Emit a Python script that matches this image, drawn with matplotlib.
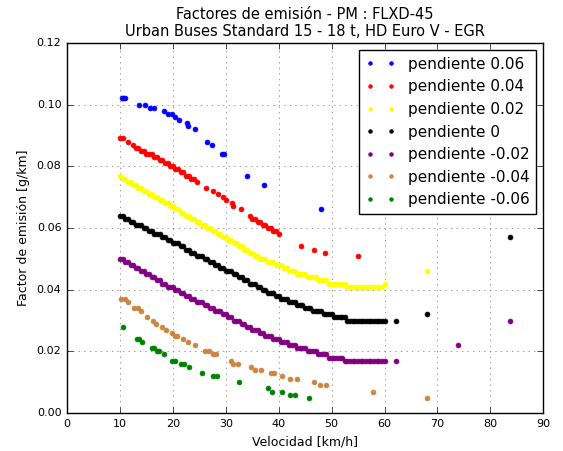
"""
Factores de emisión PM (FLXD-45) por pendiente: dispersión velocidad vs factor.
"""

import matplotlib
matplotlib.use("Agg")
import matplotlib.pyplot as plt

# ── Datos ──────────────────────────────────────────────────────────────

# velocidades comunes para las series densas (pendiente 0.02, 0, -0.02)
speed_grid = [
    10, 10.5, 11, 11.5, 12, 12.5, 13, 13.5, 14, 14.5,
    15, 15.5, 16, 16.5, 17, 17.5, 18, 18.5, 19, 19.5,
    20, 20.5, 21, 21.5, 22, 22.5, 23, 23.5, 24, 24.5,
    25, 25.5, 26, 26.5, 27, 27.5, 28, 28.5, 29, 29.5,
    30, 30.5, 31, 31.5, 32, 32.5, 33, 33.5, 34, 34.5,
    35, 35.5, 36, 36.5, 37, 37.5, 38, 38.5, 39, 39.5,
    40, 40.5, 41, 41.5, 42, 42.5, 43, 43.5, 44, 44.5,
    45, 45.5, 46, 46.5, 47, 47.5, 48, 48.5, 49, 49.5,
    50, 50.5, 51, 51.5, 52, 52.5, 53, 53.5, 54, 54.5,
    55, 55.5, 56, 56.5, 57, 57.5, 58, 58.5, 59, 59.5,
    60,
]

pos02_y = [
    .077, .076, .076, .075, .075, .074, .074, .073, .073, .072,
    .072, .071, .071, .070, .070, .069, .069, .068, .068, .067,
    .067, .066, .066, .065, .065, .064, .064, .063, .063, .062,
    .062, .061, .061, .060, .060, .059, .059, .058, .058, .057,
    .057, .056, .056, .055, .055, .054, .054, .053, .053, .052,
    .052, .051, .051, .050, .050, .050, .049, .049, .049, .048,
    .048, .048, .047, .047, .046, .046, .046, .045, .045, .045,
    .045, .044, .044, .044, .044, .043, .043, .043, .043, .042,
    .042, .042, .042, .042, .042, .042, .041, .041, .041, .041,
    .041, .041, .041, .041, .041, .041, .041, .041, .041, .041,
    .042,
]
pos02_extra_x = [68.0]
pos02_extra_y = [.046]

zero_y = [
    .064, .064, .063, .063, .062, .062, .061, .061, .061, .060,
    .060, .059, .059, .058, .058, .058, .057, .057, .056, .056,
    .055, .055, .055, .054, .054, .053, .053, .052, .052, .051,
    .051, .051, .050, .050, .049, .049, .048, .048, .047, .047,
    .046, .046, .046, .045, .045, .044, .044, .043, .043, .042,
    .042, .042, .041, .041, .040, .040, .039, .039, .039, .038,
    .038, .037, .037, .037, .036, .036, .036, .035, .035, .035,
    .034, .034, .034, .033, .033, .033, .033, .032, .032, .032,
    .032, .031, .031, .031, .031, .031, .030, .030, .030, .030,
    .030, .030, .030, .030, .030, .030, .030, .030, .030, .030,
    .030,
]
zero_extra_x = [62.2, 68.0, 83.8]
zero_extra_y = [.030, .032, .057]

neg02_y = [
    .050, .050, .049, .049, .048, .048, .047, .047, .046, .046,
    .045, .045, .044, .044, .043, .043, .042, .042, .041, .041,
    .041, .040, .040, .039, .039, .038, .038, .037, .037, .036,
    .036, .036, .035, .035, .034, .034, .033, .033, .033, .032,
    .032, .031, .031, .030, .030, .030, .029, .029, .028, .028,
    .027, .027, .027, .026, .026, .025, .025, .025, .024, .024,
    .024, .023, .023, .023, .022, .022, .022, .021, .021, .021,
    .021, .020, .020, .020, .020, .019, .019, .019, .019, .018,
    .018, .018, .018, .018, .018, .017, .017, .017, .017, .017,
    .017, .017, .017, .017, .017, .017, .017, .017, .017, .017,
    .017,
]
neg02_extra_x = [62.2, 73.8, 83.8]
neg02_extra_y = [.017, .022, .030]

pos06_x = [10.3, 10.6, 10.9, 13.6, 14.8, 15.6, 16.5, 18.3, 19.1, 19.9, 20.4,
           21.1, 22.7, 22.9, 24.2, 26.5, 27.4, 29.2, 29.7, 34.0, 37.2, 48.0]
pos06_y = [.102, .102, .102, .100, .100, .099, .099, .098, .097, .097, .096,
           .095, .094, .093, .092, .088, .087, .084, .084, .077, .074, .066]

pos04_x = [10, 10.5, 11.5, 12.5, 13, 13.5, 14, 14.5,
           15, 15.5, 16, 16.5, 17, 17.5, 18, 18.5, 19, 19.5,
           20, 20.5, 21, 21.5, 22, 22.5, 23, 23.5, 24, 24.5,
           26.2, 27.6, 28.5, 29.4, 30.1, 31.1, 31.3, 32.8,
           34.5, 35, 35.5, 36, 36.5, 37, 37.5, 38, 38.5, 39, 39.5, 40,
           44.3, 46.7, 48.7, 55.0]
pos04_y = [.089, .089, .088, .087, .086, .086, .085, .085,
           .084, .084, .084, .083, .083, .082, .082, .081, .081, .080,
           .080, .079, .079, .078, .078, .077, .077, .076, .076, .075,
           .073, .072, .071, .070, .069, .068, .067, .066,
           .064, .063, .063, .062, .062, .061, .061, .060, .060, .059, .059, .058,
           .054, .053, .052, .051]

neg04_x = [10.2, 10.9, 11.6, 12.6, 13.5, 14.0, 15.2, 16.3, 16.8, 17.9, 18.8,
           19.8, 20.4, 20.8, 21.9, 22.9, 24.2, 26.0, 26.8, 27.6, 28.2, 30.9,
           31.4, 32.3, 34.8, 35.5, 36.7, 38.6, 39.2, 40.7, 42.2, 43.5, 46.7,
           47.9, 49.0, 57.9, 68.1]
neg04_y = [.037, .037, .036, .034, .034, .033, .031, .030, .029, .028, .027,
           .026, .025, .025, .024, .023, .022, .020, .020, .019, .019, .017,
           .016, .016, .015, .014, .014, .013, .013, .012, .011, .011, .010,
           .009, .009, .007, .005]

neg06_x = [10.5, 13.2, 13.6, 14.2, 16.0, 16.4, 17.0, 17.4, 18.4, 19.9, 20.4,
           21.5, 22.1, 23.1, 25.6, 27.6, 28.4, 32.5, 38.0, 38.8, 40.6, 42.2,
           43.0, 45.7]
neg06_y = [.028, .024, .024, .023, .021, .021, .020, .020, .019, .017, .017,
           .016, .016, .015, .013, .012, .012, .010, .008, .007, .007, .006,
           .006, .005]

labels = ["pendiente 0.06", "pendiente 0.04", "pendiente 0.02", "pendiente 0",
          "pendiente -0.02", "pendiente -0.04", "pendiente -0.06"]
colors = ["blue", "red", "yellow", "black", "purple", "peru", "green"]

# ── Figura ─────────────────────────────────────────────────────────────

plt.style.use("classic")

series = [
    (pos06_x, pos06_y),
    (pos04_x, pos04_y),
    (speed_grid + pos02_extra_x, pos02_y + pos02_extra_y),
    (speed_grid + zero_extra_x, zero_y + zero_extra_y),
    (speed_grid + neg02_extra_x, neg02_y + neg02_extra_y),
    (neg04_x, neg04_y),
    (neg06_x, neg06_y),
]

fig = plt.figure(figsize=(5.63, 4.51), dpi=100, facecolor="white")
ax = fig.add_axes([0.119, 0.084, 0.846, 0.821])

for (xs, ys), label, color in zip(series, labels, colors):
    ax.plot(xs, ys, ".", color=color, markeredgecolor=color,
            markersize=7, label=label)

ax.set_xlim(0, 90)
ax.set_ylim(0, 0.12)
ax.set_xticks(range(0, 91, 10))
ax.set_yticks([0, 0.02, 0.04, 0.06, 0.08, 0.10, 0.12])
ax.tick_params(labelsize=8)
ax.grid(True, color="0.55", linestyle=":", linewidth=0.6)
ax.set_axisbelow(True)

ax.set_title("Factores de emisión - PM : FLXD-45\n"
             "Urban Buses Standard 15 - 18 t, HD Euro V - EGR", fontsize=10.5)
ax.set_xlabel("Velocidad [km/h]", fontsize=9)
ax.set_ylabel("Factor de emisión [g/km]", fontsize=9)
leg = ax.legend(loc="upper right", numpoints=2, fontsize=11, markerscale=0.75)

fig.savefig("out.png", dpi=100, facecolor="white")
